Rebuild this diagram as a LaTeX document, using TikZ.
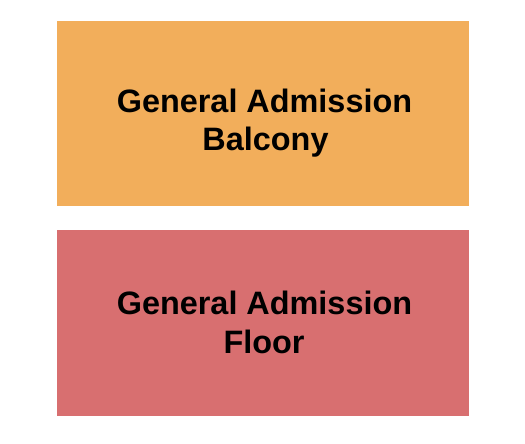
\documentclass[tikz,border=0pt]{standalone}
\usepackage{fontspec}
\setmainfont{Liberation Sans}
\definecolor{balc}{HTML}{F2AE5B}
\definecolor{flr}{HTML}{D86F70}
\begin{document}
\begin{tikzpicture}[x=1pt,y=-1pt,
  sect/.style={draw=none,inner sep=0pt,minimum width=412pt},
  lbl/.style={anchor=base,inner sep=0pt,font=\fontsize{32.4}{35}\selectfont\bfseries,text=black}]
\useasboundingbox (0,0) rectangle (525,444);
\node[sect,fill=balc,minimum height=184.5pt] (balcony) at (263,113.25) {};
\node[sect,fill=flr,minimum height=185.5pt] (floor) at (263,322.75) {};
\node[lbl] (b1) at (264.5,112.3) {General Admission};
\node[lbl] (b2) at (265.5,150) {Balcony};
\node[lbl] (f1) at (264.5,314.5) {General Admission};
\node[lbl] (f2) at (264,353) {Floor};
\end{tikzpicture}
\end{document}
